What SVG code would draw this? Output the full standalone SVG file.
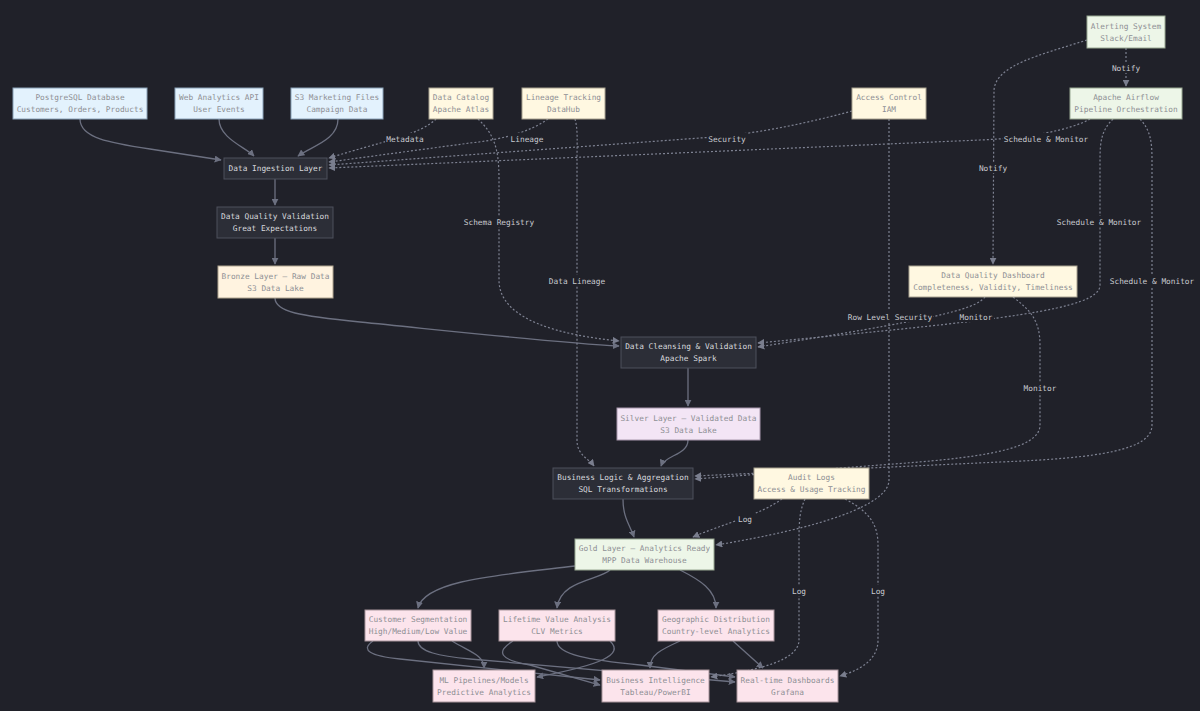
<svg xmlns="http://www.w3.org/2000/svg" width="1200" height="711" viewBox="0 0 1200 711">
<defs>
<marker id="a" viewBox="0 0 10 10" refX="9" refY="5" markerWidth="7" markerHeight="7" markerUnits="userSpaceOnUse" orient="auto"><path d="M0,0L10,5L0,10z" fill="#6c7080"/></marker>
<marker id="ad" viewBox="0 0 10 10" refX="9" refY="5" markerWidth="7" markerHeight="7" markerUnits="userSpaceOnUse" orient="auto"><path d="M0,0L10,5L0,10z" fill="#7a7e8e"/></marker>
<style>
text{font-family:"DejaVu Sans Mono","Liberation Mono",monospace;font-size:7.8px;text-anchor:middle}
.n rect{stroke-width:1}
.dk rect{fill:#2c2e37;stroke:#4d505c}
.dk text{fill:#d8d9de}
.lt text{fill:#8e8f94}
.bl rect{fill:#e3f2fd;stroke:#8aa2b8}
.ye rect{fill:#fff8e1;stroke:#a8a290}
.gr rect{fill:#edf6e8;stroke:#98a892}
.pe rect{fill:#fff3e0;stroke:#b0a590}
.lv rect{fill:#f3e5f5;stroke:#a898ad}
.pk rect{fill:#fce4ec;stroke:#a8959c}
.s{fill:none;stroke:#6c7080;stroke-width:1.3}
.d{fill:none;stroke:#7e8292;stroke-width:1.2;stroke-dasharray:2 2}
.lb rect{fill:#202129}
.lb text{fill:#c9cad0}
</style>
</defs>
<rect width="1200" height="711" fill="#202129"/>
<g id="connectors">
<path class="s" d="M80,119 C80,138 110,143 150,149 L221,160" marker-end="url(#a)"/>
<path class="s" d="M219,119 C219,138 245,147 254,156" marker-end="url(#a)"/>
<path class="s" d="M338,119 C338,140 312,146 298,156" marker-end="url(#a)"/>
<path class="s" d="M275,179 L275,205" marker-end="url(#a)"/>
<path class="s" d="M275,238 L275,264" marker-end="url(#a)"/>
<path class="s" d="M275,298 C275,312 300,316 360,322 C460,332 560,343 619,346" marker-end="url(#a)"/>
<path class="s" d="M688,368 L688,406" marker-end="url(#a)"/>
<path class="s" d="M688,440 C688,455 665,455 661,466" marker-end="url(#a)"/>
<path class="s" d="M623,499 C623,518 630,525 634,537" marker-end="url(#a)"/>
<path class="s" d="M575,566 C500,575 425,580 418,608" marker-end="url(#a)"/>
<path class="s" d="M610,570 C600,580 560,580 557,608" marker-end="url(#a)"/>
<path class="s" d="M680,570 C700,580 716,590 716,608" marker-end="url(#a)"/>
<path class="s" d="M373,641 C360,650 370,656 400,659 L600,680" marker-end="url(#a)"/>
<path class="s" d="M418,641 C418,652 440,656 470,659 L735,682" marker-end="url(#a)"/>
<path class="s" d="M452,641 C470,652 484,655 484,668" marker-end="url(#a)"/>
<path class="s" d="M513,641 C495,652 500,660 530,665 L600,685" marker-end="url(#a)"/>
<path class="s" d="M557,641 C557,655 590,660 640,665 L735,677" marker-end="url(#a)"/>
<path class="s" d="M610,641 C625,655 600,665 537,677" marker-end="url(#a)"/>
<path class="s" d="M680,641 C660,650 650,655 650,668" marker-end="url(#a)"/>
<path class="s" d="M733,641 L763,668" marker-end="url(#a)"/>
<path class="d" d="M436,119 C420,135 380,142 329,158" marker-end="url(#ad)"/>
<path class="d" d="M548,119 C530,132 500,140 470,143 L329,162" marker-end="url(#ad)"/>
<path class="d" d="M852,111 C800,125 750,135 700,138 L329,165" marker-end="url(#ad)"/>
<path class="d" d="M1090,119 C1070,130 1030,138 980,140 L329,168" marker-end="url(#ad)"/>
<path class="d" d="M478,119 C495,135 499,150 499,180 L499,280 C499,320 560,335 619,341" marker-end="url(#ad)"/>
<path class="d" d="M575,119 C578,130 577,140 577,160 L577,440 C577,455 588,458 594,466" marker-end="url(#ad)"/>
<path class="d" d="M889,119 L889,480 C889,505 820,528 716,545" marker-end="url(#ad)"/>
<path class="d" d="M1087,40 C1040,55 996,65 994,90 L993,264" marker-end="url(#ad)"/>
<path class="d" d="M1126,48 L1126,86" marker-end="url(#ad)"/>
<path class="d" d="M1113,119 C1102,130 1100,140 1100,160 L1100,285 C1100,310 1000,320 758,343" marker-end="url(#ad)"/>
<path class="d" d="M985,297 C975,310 930,320 758,347" marker-end="url(#ad)"/>
<path class="d" d="M1013,297 C1030,310 1040,320 1040,345 L1040,425 C1040,450 980,458 880,465 L695,479" marker-end="url(#ad)"/>
<path class="d" d="M1140,119 C1150,130 1152,140 1152,160 L1152,425 C1152,450 1100,458 1000,462 L695,476" marker-end="url(#ad)"/>
<path class="d" d="M782,499 C760,515 720,525 693,537" marker-end="url(#ad)"/>
<path class="d" d="M805,499 C800,510 799,520 799,540 L799,640 C799,660 760,670 711,677" marker-end="url(#ad)"/>
<path class="d" d="M845,499 C870,512 878,525 878,545 L878,640 C878,660 860,670 840,676" marker-end="url(#ad)"/>
</g>
<g id="labels" class="lb">
<rect x="385" y="133" width="40" height="11"/><text x="405" y="142">Metadata</text>
<rect x="509" y="133" width="36" height="11"/><text x="527" y="142">Lineage</text>
<rect x="707" y="133" width="40" height="11"/><text x="727" y="142">Security</text>
<rect x="1003" y="133" width="86" height="11"/><text x="1046" y="142">Schedule &amp; Monitor</text>
<rect x="1110" y="62" width="32" height="11"/><text x="1126" y="71">Notify</text>
<rect x="977" y="162" width="32" height="11"/><text x="993" y="171">Notify</text>
<rect x="462" y="216" width="74" height="11"/><text x="499" y="225">Schema Registry</text>
<rect x="1056" y="216" width="86" height="11"/><text x="1099" y="225">Schedule &amp; Monitor</text>
<rect x="548" y="275" width="58" height="11"/><text x="577" y="284">Data Lineage</text>
<rect x="1109" y="275" width="86" height="11"/><text x="1152" y="284">Schedule &amp; Monitor</text>
<rect x="847" y="311" width="86" height="11"/><text x="890" y="320">Row Level Security</text>
<rect x="958" y="311" width="36" height="11"/><text x="976" y="320">Monitor</text>
<rect x="1022" y="382" width="36" height="11"/><text x="1040" y="391">Monitor</text>
<rect x="736" y="513" width="18" height="11"/><text x="745" y="522">Log</text>
<rect x="790" y="585" width="18" height="11"/><text x="799" y="594">Log</text>
<rect x="869" y="585" width="18" height="11"/><text x="878" y="594">Log</text>
</g>
<g id="postgres" class="n lt bl"><rect x="13" y="88" width="134" height="31"/><text x="80" y="100">PostgreSQL Database</text><text x="80" y="112">Customers, Orders, Products</text></g>
<g id="webapi" class="n lt bl"><rect x="175" y="88" width="88" height="31"/><text x="219" y="100">Web Analytics API</text><text x="219" y="112">User Events</text></g>
<g id="s3files" class="n lt bl"><rect x="291" y="88" width="92" height="31"/><text x="337" y="100">S3 Marketing Files</text><text x="337" y="112">Campaign Data</text></g>
<g id="catalog" class="n lt ye"><rect x="429" y="88" width="64" height="31"/><text x="461" y="100">Data Catalog</text><text x="461" y="112">Apache Atlas</text></g>
<g id="lineage" class="n lt ye"><rect x="522" y="88" width="83" height="31"/><text x="563.5" y="100">Lineage Tracking</text><text x="563.5" y="112">DataHub</text></g>
<g id="access" class="n lt ye"><rect x="852" y="88" width="74" height="31"/><text x="889" y="100">Access Control</text><text x="889" y="112">IAM</text></g>
<g id="airflow" class="n lt gr"><rect x="1070" y="88" width="112" height="31"/><text x="1126" y="100">Apache Airflow</text><text x="1126" y="112">Pipeline Orchestration</text></g>
<g id="alerting" class="n lt gr"><rect x="1087" y="16" width="78" height="32"/><text x="1126" y="29">Alerting System</text><text x="1126" y="41">Slack/Email</text></g>
<g id="ingestion" class="n dk"><rect x="224" y="158" width="103" height="21"/><text x="275.5" y="171">Data Ingestion Layer</text></g>
<g id="dqv" class="n dk"><rect x="217" y="207" width="116" height="31"/><text x="275" y="219">Data Quality Validation</text><text x="275" y="231">Great Expectations</text></g>
<g id="bronze" class="n lt pe"><rect x="218" y="266" width="115" height="32"/><text x="275.5" y="279">Bronze Layer – Raw Data</text><text x="275.5" y="291">S3 Data Lake</text></g>
<g id="cleansing" class="n dk"><rect x="621" y="337" width="135" height="31"/><text x="688.5" y="349">Data Cleansing &amp; Validation</text><text x="688.5" y="361">Apache Spark</text></g>
<g id="silver" class="n lt lv"><rect x="617" y="408" width="143" height="32"/><text x="688.5" y="421">Silver Layer – Validated Data</text><text x="688.5" y="433">S3 Data Lake</text></g>
<g id="dqdash" class="n lt ye"><rect x="909" y="266" width="168" height="31"/><text x="993" y="278">Data Quality Dashboard</text><text x="993" y="290">Completeness, Validity, Timeliness</text></g>
<g id="bizlogic" class="n dk"><rect x="553" y="468" width="140" height="31"/><text x="623" y="480">Business Logic &amp; Aggregation</text><text x="623" y="492">SQL Transformations</text></g>
<g id="audit" class="n lt ye"><rect x="754" y="468" width="115" height="31"/><text x="811.5" y="480">Audit Logs</text><text x="811.5" y="492">Access &amp; Usage Tracking</text></g>
<g id="gold" class="n lt gr"><rect x="575" y="539" width="139" height="31"/><text x="644.5" y="551">Gold Layer – Analytics Ready</text><text x="644.5" y="563">MPP Data Warehouse</text></g>
<g id="custseg" class="n lt pk"><rect x="365" y="610" width="106" height="31"/><text x="418" y="622">Customer Segmentation</text><text x="418" y="634">High/Medium/Low Value</text></g>
<g id="ltv" class="n lt pk"><rect x="499" y="610" width="116" height="31"/><text x="557" y="622">Lifetime Value Analysis</text><text x="557" y="634">CLV Metrics</text></g>
<g id="geo" class="n lt pk"><rect x="658" y="610" width="116" height="31"/><text x="716" y="622">Geographic Distribution</text><text x="716" y="634">Country-level Analytics</text></g>
<g id="ml" class="n lt pk"><rect x="433" y="670" width="102" height="32"/><text x="484" y="683">ML Pipelines/Models</text><text x="484" y="695">Predictive Analytics</text></g>
<g id="bi" class="n lt pk"><rect x="602" y="670" width="107" height="32"/><text x="655.5" y="683">Business Intelligence</text><text x="655.5" y="695">Tableau/PowerBI</text></g>
<g id="realtime" class="n lt pk"><rect x="737" y="670" width="101" height="32"/><text x="787.5" y="683">Real-time Dashboards</text><text x="787.5" y="695">Grafana</text></g>
</svg>
